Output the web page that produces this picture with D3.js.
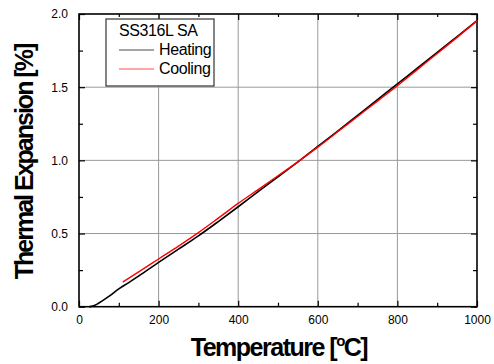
<!DOCTYPE html>
<meta charset="utf-8">
<script src="https://d3js.org/d3.v7.min.js"></script>
<style>
body { margin: 0; padding: 0; background: #fff; }
text { font-family: 'Liberation Sans', Arial, sans-serif; }
</style>
<body>
<div id="chart"></div>
<script>
// heating curve
var heatT = [25, 30, 40, 50, 75, 100, 125, 150, 200, 250, 300, 350, 400, 450, 500, 550, 600, 650, 700, 750, 800, 850, 900, 950, 1000];
var heatE = [0, 0.002, 0.01, 0.025, 0.07, 0.122, 0.165, 0.21, 0.303, 0.393, 0.484, 0.582, 0.683, 0.786, 0.888, 0.99, 1.095, 1.2, 1.308, 1.415, 1.522, 1.63, 1.737, 1.846, 1.955];
// cooling curve
var coolT = [110, 150, 200, 250, 300, 350, 400, 450, 500, 550, 600, 650, 700, 750, 800, 850, 900, 950, 1000];
var coolE = [0.168, 0.238, 0.326, 0.414, 0.506, 0.605, 0.706, 0.8, 0.895, 0.99, 1.09, 1.195, 1.3, 1.405, 1.51, 1.62, 1.73, 1.84, 1.953];

var xTicks = [0, 200, 400, 600, 800, 1000];
var yTicks = [0, 0.5, 1.0, 1.5, 2.0];
var xMinor = [100, 300, 500, 700, 900];
var yMinor = [0.25, 0.75, 1.25, 1.75];

var margin = {top: 14, right: 17, bottom: 57.3, left: 79},
    width = 494 - margin.left - margin.right,
    height = 364 - margin.top - margin.bottom;

var svg = d3.select("#chart")
  .append("svg")
    .attr("width", 494)
    .attr("height", 364)
  .append("g")
    .attr("transform", "translate(" + margin.left + "," + margin.top + ")");

var x = d3.scaleLinear().domain([0, 1000]).range([0, width]);
var y = d3.scaleLinear().domain([0, 2]).range([height, 0]);

// grid
svg.selectAll("vgrid")
  .data(xTicks.slice(1, -1))
  .enter()
  .append("line")
    .attr("x1", function(d) { return x(d); })
    .attr("x2", function(d) { return x(d); })
    .attr("y1", 0)
    .attr("y2", height)
    .attr("stroke", "#999")
    .attr("stroke-width", 1);
svg.selectAll("hgrid")
  .data(yTicks.slice(1, -1))
  .enter()
  .append("line")
    .attr("x1", 0)
    .attr("x2", width)
    .attr("y1", function(d) { return y(d); })
    .attr("y2", function(d) { return y(d); })
    .attr("stroke", "#999")
    .attr("stroke-width", 1);

// axes with inward ticks
svg.append("g")
  .attr("transform", "translate(0," + height + ")")
  .call(d3.axisBottom(x).tickValues(xTicks).tickSizeInner(-6).tickSizeOuter(0).tickPadding(9).tickFormat(d3.format("d")));
svg.append("g")
  .call(d3.axisLeft(y).tickValues(yTicks).tickSizeInner(-6).tickSizeOuter(0).tickPadding(11).tickFormat(d3.format(".1f")));
svg.append("g")
  .call(d3.axisTop(x).tickValues(xTicks).tickSizeInner(-6).tickSizeOuter(0).tickFormat(""));
svg.append("g")
  .attr("transform", "translate(" + width + ",0)")
  .call(d3.axisRight(y).tickValues(yTicks).tickSizeInner(-6).tickSizeOuter(0).tickFormat(""));

// minor ticks
svg.append("g")
  .attr("transform", "translate(0," + height + ")")
  .call(d3.axisBottom(x).tickValues(xMinor).tickSizeInner(-4).tickSizeOuter(0).tickFormat(""));
svg.append("g")
  .call(d3.axisTop(x).tickValues(xMinor).tickSizeInner(-3).tickSizeOuter(0).tickFormat(""));
svg.append("g")
  .call(d3.axisLeft(y).tickValues(yMinor).tickSizeInner(-4).tickSizeOuter(0).tickFormat(""));
svg.append("g")
  .attr("transform", "translate(" + width + ",0)")
  .call(d3.axisRight(y).tickValues(yMinor).tickSizeInner(-4).tickSizeOuter(0).tickFormat(""));

svg.selectAll(".domain").remove();
svg.selectAll(".tick line").attr("stroke", "#000").attr("stroke-width", 1.2);
svg.selectAll(".tick text")
  .attr("fill", "#000")
  .style("font-size", "12px")
  .style("font-family", "'Liberation Sans', Arial, sans-serif");

// frame
svg.append("rect")
  .attr("x", 0).attr("y", 0)
  .attr("width", width).attr("height", height)
  .attr("fill", "none")
  .attr("stroke", "#000")
  .attr("stroke-width", 1.6);

// curves
var line = d3.line()
  .x(function(d) { return x(d[0]); })
  .y(function(d) { return y(d[1]); })
  .curve(d3.curveMonotoneX);

svg.append("path")
  .datum(d3.zip(heatT, heatE))
  .attr("d", line)
  .attr("fill", "none")
  .attr("stroke", "#000")
  .attr("stroke-width", 1.6);
svg.append("path")
  .datum(d3.zip(coolT, coolE))
  .attr("d", line)
  .attr("fill", "none")
  .attr("stroke", "#ff0000")
  .attr("stroke-width", 1.4);

// legend
var lg = svg.append("g").attr("transform", "translate(" + (106 - margin.left) + "," + (19 - margin.top) + ")");
lg.append("rect")
  .attr("x", 0).attr("y", 0)
  .attr("width", 108).attr("height", 67)
  .attr("fill", "#fff")
  .attr("stroke", "#333")
  .attr("stroke-width", 1.2);
lg.append("text")
  .attr("x", 13).attr("y", 16.5)
  .style("font-size", "16px")
  .style("letter-spacing", "-0.4px")
  .text("SS316L SA");
var items = [["Heating", "#000"], ["Cooling", "#ff0000"]];
lg.selectAll("legline")
  .data(items)
  .enter()
  .append("line")
    .attr("x1", 13).attr("x2", 48)
    .attr("y1", function(d, i) { return 31 + i * 19; })
    .attr("y2", function(d, i) { return 31 + i * 19; })
    .attr("stroke", function(d) { return d[1]; })
    .attr("stroke-width", 1)
    .attr("opacity", 0.7);
lg.selectAll("legtext")
  .data(items)
  .enter()
  .append("text")
    .attr("x", 53)
    .attr("y", function(d, i) { return 36 + i * 19; })
    .style("font-size", "16px")
    .style("letter-spacing", "-0.4px")
    .text(function(d) { return d[0]; });

// axis titles
var xt = svg.append("text")
  .attr("x", 279 - margin.left)
  .attr("y", 356 - margin.top)
  .attr("text-anchor", "middle")
  .style("font-size", "25px")
  .style("font-weight", "bold")
  .style("letter-spacing", "-1.5px");
xt.append("tspan").text("Temperature [");
xt.append("tspan").attr("dy", -10).style("font-size", "15px").text("o");
xt.append("tspan").attr("dy", 10).text("C]");

svg.append("text")
  .attr("transform", "translate(" + (33 - margin.left) + "," + (162 - margin.top) + ") rotate(-90)")
  .attr("text-anchor", "middle")
  .style("font-size", "25px")
  .style("font-weight", "bold")
  .style("letter-spacing", "-2px")
  .text("Thermal Expansion [%]");
</script>
</body>
